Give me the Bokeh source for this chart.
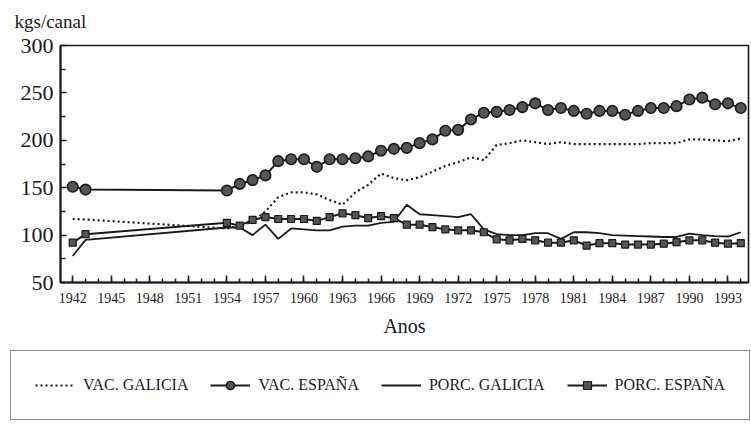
from bokeh.plotting import figure
from bokeh.layouts import column, row
from bokeh.models import Range1d, FixedTicker, Legend, LegendItem, Title, ColumnDataSource
from bokeh.embed import file_html
from bokeh.resources import INLINE

years = [1942, 1943, 1954, 1955, 1956, 1957, 1958, 1959, 1960, 1961, 1962, 1963,
         1964, 1965, 1966, 1967, 1968, 1969, 1970, 1971, 1972, 1973, 1974, 1975,
         1976, 1977, 1978, 1979, 1980, 1981, 1982, 1983, 1984, 1985, 1986, 1987,
         1988, 1989, 1990, 1991, 1992, 1993, 1994]

vac_galicia = [117, 116.5, 107, 110, 114, 125, 140, 145, 145, 143, 137, 132,
               145, 153, 165, 160, 158, 161, 167, 173, 177, 182, 179, 195,
               197, 200, 198, 196, 198, 196, 196, 196, 196, 196, 196, 197,
               197, 197, 201, 201, 200, 199, 202]

vac_espana = [151, 148, 147, 154, 158, 163, 178, 180, 180, 172, 180, 180,
              181, 183, 189, 191, 192, 197, 201, 210, 211, 222, 229, 230,
              232, 235, 239, 232, 234, 231, 228, 231, 231, 227, 231, 234,
              234, 236, 243, 245, 238, 239, 234]

porc_galicia = [78, 95, 108, 108, 100, 111, 96, 107, 106, 105, 105, 109,
                110, 110, 113, 114, 132, 122, 121, 120, 119, 122, 106, 101,
                100, 100, 102, 102, 96, 103, 103, 102, 100, 99.5, 99, 98.5,
                98, 98, 101.5, 100, 99, 98.5, 103]

porc_espana = [92, 101, 113, 110, 116, 119, 117, 117, 117, 115, 119, 123,
               121, 118, 120, 118, 111, 111, 108.5, 106, 105, 105, 103, 95.5,
               94.5, 96, 94.5, 92, 92, 94.5, 89, 91.5, 91.5, 90, 90, 90,
               91, 92.5, 94.5, 94.5, 92, 91, 91.5]

x_ticks = [1942, 1945, 1948, 1951, 1954, 1957, 1960, 1963, 1966, 1969, 1972,
           1975, 1978, 1981, 1984, 1987, 1990, 1993]
x_minor = [1942, 1943, 1944, 1945, 1946, 1947, 1948, 1949, 1950, 1951, 1952,
           1953, 1954, 1955, 1956, 1957, 1958, 1959, 1960, 1961, 1962, 1963,
           1964, 1965, 1966, 1967, 1968, 1969, 1970, 1971, 1972, 1973, 1974,
           1975, 1976, 1977, 1978, 1979, 1980, 1981, 1982, 1983, 1984, 1985,
           1986, 1987, 1988, 1989, 1990, 1991, 1992, 1993, 1994]
y_ticks = [50, 100, 150, 200, 250, 300]
y_minor = [75, 125, 175, 225, 275]

series_names = ["VAC. GALICIA", "VAC. ESPAÑA", "PORC. GALICIA", "PORC. ESPAÑA"]
y_title = "kgs/canal"
x_title = "Anos"

src = ColumnDataSource(dict(year=years, vg=vac_galicia, ve=vac_espana,
                            pg=porc_galicia, pe=porc_espana))

FONT = "Liberation Serif"
INK = "#1a1a1a"


def draw_series(fig):
    r_vg = fig.line("year", "vg", source=src, line_color=INK, line_width=2.2, line_dash="2 3")
    r_pg = fig.line("year", "pg", source=src, line_color=INK, line_width=1.8)
    r_pe = fig.line("year", "pe", source=src, line_color=INK, line_width=2)
    r_pes = fig.scatter("year", "pe", source=src, marker="square", size=7,
                        fill_color="#555555", line_color=INK, line_width=1.2)
    r_ve = fig.line("year", "ve", source=src, line_color=INK, line_width=2)
    r_ves = fig.scatter("year", "ve", source=src, marker="circle", size=10.5,
                        fill_color="#555555", line_color=INK, line_width=1.6)
    return r_vg, r_ve, r_ves, r_pg, r_pe, r_pes


p = figure(width=751, height=340, output_backend="svg", toolbar_location=None,
           title=None,
           x_range=Range1d(1941.05, 1994.6), y_range=Range1d(50, 300),
           min_border_left=60, min_border_right=3, min_border_top=45,
           min_border_bottom=58)
# spacer above the frame, then the unit title further up
p.add_layout(Title(text="\u00a0", text_font_size="9px", standoff=0), "above")
p.add_layout(Title(text=y_title, align="left", offset=-46, text_font=FONT,
                   text_font_size="19px", text_font_style="normal",
                   text_color=INK, standoff=4), "above")

p.background_fill_color = "white"
p.border_fill_color = "white"
p.grid.visible = False
p.outline_line_color = INK
p.outline_line_width = 1.6

p.xaxis.ticker = FixedTicker(ticks=x_ticks, minor_ticks=x_minor)
p.yaxis.ticker = FixedTicker(ticks=y_ticks, minor_ticks=y_minor)
for ax in (p.xaxis[0], p.yaxis[0]):
    ax.axis_line_color = INK
    ax.axis_line_width = 2
    ax.major_tick_line_color = INK
    ax.minor_tick_line_color = INK
    ax.major_tick_line_width = 1.5
    ax.minor_tick_line_width = 1.5
    ax.major_tick_out = 0
    ax.minor_tick_out = 0
    ax.major_label_text_font = FONT
    ax.major_label_text_color = INK
p.xaxis.major_tick_in = 7
p.xaxis.minor_tick_in = 4
p.yaxis.major_tick_in = 6
p.yaxis.minor_tick_in = 5
p.xaxis.major_label_text_font_size = "14px"
p.yaxis.major_label_text_font_size = "22px"
p.xaxis.major_label_standoff = 10
p.yaxis.major_label_standoff = 7
p.xaxis.axis_label = x_title
p.xaxis.axis_label_text_font = FONT
p.xaxis.axis_label_text_font_style = "normal"
p.xaxis.axis_label_text_font_size = "20px"
p.xaxis.axis_label_text_color = INK
p.xaxis.axis_label_standoff = 9

draw_series(p)

# legend panel: its own copies of the series lie outside its (empty) view,
# so only the legend shows
lf = figure(width=751, height=88, output_backend="svg", toolbar_location=None,
            x_range=Range1d(0, 1), y_range=Range1d(0, 1),
            min_border_left=0, min_border_right=0, min_border_top=0,
            min_border_bottom=0)
lf.axis.visible = False
lf.grid.visible = False
lf.outline_line_color = None
lf.background_fill_color = "white"
lf.border_fill_color = "white"
l_vg, l_ve, l_ves, l_pg, l_pe, l_pes = draw_series(lf)

legend = Legend(items=[
    LegendItem(label=series_names[0], renderers=[l_vg]),
    LegendItem(label=series_names[1], renderers=[l_ve, l_ves]),
    LegendItem(label=series_names[2], renderers=[l_pg]),
    LegendItem(label=series_names[3], renderers=[l_pe, l_pes]),
], orientation="horizontal", location=(10, 8))
legend.label_text_font = FONT
legend.label_text_font_size = "16px"
legend.label_text_color = INK
legend.border_line_color = INK
legend.border_line_width = 1.6
legend.background_fill_color = "white"
legend.background_fill_alpha = 1
legend.glyph_width = 40
legend.label_standoff = 8
legend.spacing = 22
legend.padding = 24
legend.margin = 0
lf.add_layout(legend, "center")

layout = column(p, row(lf), spacing=0)
open("out.html", "w").write(file_html(layout, INLINE))
